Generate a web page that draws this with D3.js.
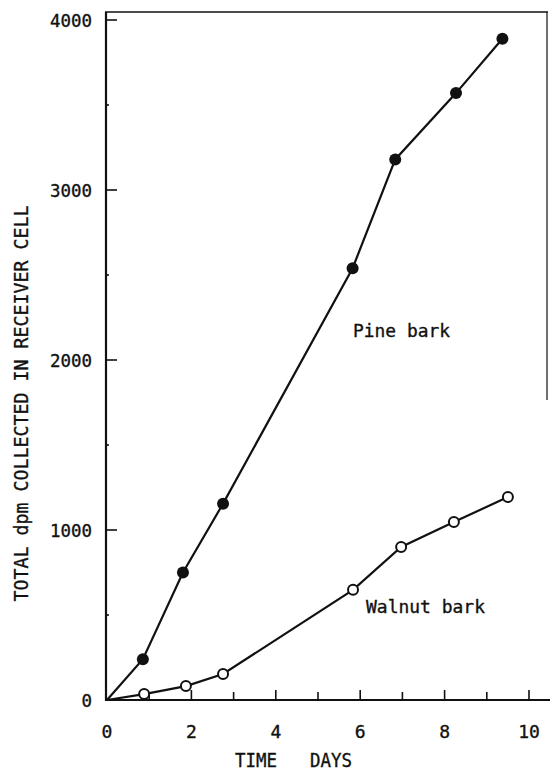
<!DOCTYPE html>
<html>
<head>
<meta charset="utf-8">
<script src="https://cdn.jsdelivr.net/npm/d3@7"></script>
<style>
  body { margin: 0; background: #fff; }
  svg text { font-family: "DejaVu Sans Mono", monospace; fill: #111; stroke: #111; stroke-width: 0.35; }
</style>
</head>
<body>
<svg id="chart" width="550" height="772"></svg>
<script>
// data (days, total dpm)
const pineDays = [0, 0.85, 1.8, 2.75, 5.82, 6.83, 8.27, 9.37];
const pineDpm = [0, 240, 750, 1155, 2540, 3180, 3570, 3890];
const walnutDays = [0, 0.88, 1.87, 2.75, 5.83, 6.97, 8.22, 9.5];
const walnutDpm = [0, 35, 82, 153, 648, 900, 1047, 1194];
const xTicks = [0, 2, 4, 6, 8, 10];
const yTicks = [0, 1000, 2000, 3000, 4000];

const svg = d3.select("#chart");
const ink = "#111";

const x = d3.scaleLinear().domain([0, 10]).range([107, 529]);
const y = d3.scaleLinear().domain([0, 4000]).range([700, 20]);

// frame: left + bottom axes thick, top and right border thin
svg.append("line").attr("x1", 106).attr("x2", 106).attr("y1", 12).attr("y2", 701)
    .attr("stroke", ink).attr("stroke-width", 2.2);
svg.append("line").attr("x1", 105).attr("x2", 550).attr("y1", 700).attr("y2", 700)
    .attr("stroke", ink).attr("stroke-width", 2.2);
svg.append("line").attr("x1", 105).attr("x2", 548).attr("y1", 12).attr("y2", 12)
    .attr("stroke", ink).attr("stroke-width", 1.4);
svg.append("line").attr("x1", 547).attr("x2", 547).attr("y1", 12).attr("y2", 400)
    .attr("stroke", ink).attr("stroke-width", 1.2);

// y ticks (inward)
svg.append("g").selectAll("line").data(d3.range(500, 4001, 500)).join("line")
    .attr("x1", 106).attr("x2", d => d % 1000 === 0 ? 117 : 109)
    .attr("y1", d => y(d)).attr("y2", d => y(d))
    .attr("stroke", ink).attr("stroke-width", 1.6);
svg.append("g").selectAll("text").data(yTicks).join("text")
    .attr("x", 92).attr("y", d => y(d) + 6.5)
    .attr("text-anchor", "end").attr("font-size", 18)
    .attr("textLength", d => String(d).length * 10.5).attr("lengthAdjust", "spacingAndGlyphs")
    .text(d => d);

// x ticks (inward)
svg.append("g").selectAll("line").data(d3.range(1, 11)).join("line")
    .attr("x1", d => x(d)).attr("x2", d => x(d))
    .attr("y1", 700).attr("y2", d => d % 2 === 0 ? 690 : 692)
    .attr("stroke", ink).attr("stroke-width", 1.6);
svg.append("g").selectAll("text").data(xTicks).join("text")
    .attr("x", d => x(d)).attr("y", 738)
    .attr("text-anchor", "middle").attr("font-size", 18)
    .text(d => d);

// axis titles
svg.append("text").attr("x", 235).attr("y", 767).attr("font-size", 19)
    .attr("textLength", 42).attr("lengthAdjust", "spacingAndGlyphs").text("TIME");
svg.append("text").attr("x", 310).attr("y", 767).attr("font-size", 19)
    .attr("textLength", 42).attr("lengthAdjust", "spacingAndGlyphs").text("DAYS");
svg.append("text")
    .attr("transform", "translate(27.5,403.5) rotate(-90)")
    .attr("text-anchor", "middle").attr("font-size", 20)
    .attr("textLength", 396).attr("lengthAdjust", "spacingAndGlyphs")
    .text("TOTAL dpm COLLECTED IN RECEIVER CELL");

// series
const pine = pineDays.map((d, i) => [d, pineDpm[i]]);
const walnut = walnutDays.map((d, i) => [d, walnutDpm[i]]);
const line = d3.line().x(d => x(d[0])).y(d => y(d[1]));

svg.append("path").attr("d", line(pine)).attr("fill", "none")
    .attr("stroke", ink).attr("stroke-width", 2.2);
svg.append("path").attr("d", line(walnut)).attr("fill", "none")
    .attr("stroke", ink).attr("stroke-width", 2.2);

svg.append("g").selectAll("circle").data(pine.slice(1)).join("circle")
    .attr("cx", d => x(d[0])).attr("cy", d => y(d[1])).attr("r", 6)
    .attr("fill", ink);
svg.append("g").selectAll("circle").data(walnut.slice(1)).join("circle")
    .attr("cx", d => x(d[0])).attr("cy", d => y(d[1])).attr("r", 5)
    .attr("fill", "#fff").attr("stroke", ink).attr("stroke-width", 2);

// series labels
svg.append("text").attr("x", 353).attr("y", 337).attr("font-size", 18)
    .attr("textLength", 97).attr("lengthAdjust", "spacingAndGlyphs").text("Pine bark");
svg.append("text").attr("x", 366).attr("y", 613).attr("font-size", 18)
    .attr("textLength", 119).attr("lengthAdjust", "spacingAndGlyphs").text("Walnut bark");
</script>
</body>
</html>
